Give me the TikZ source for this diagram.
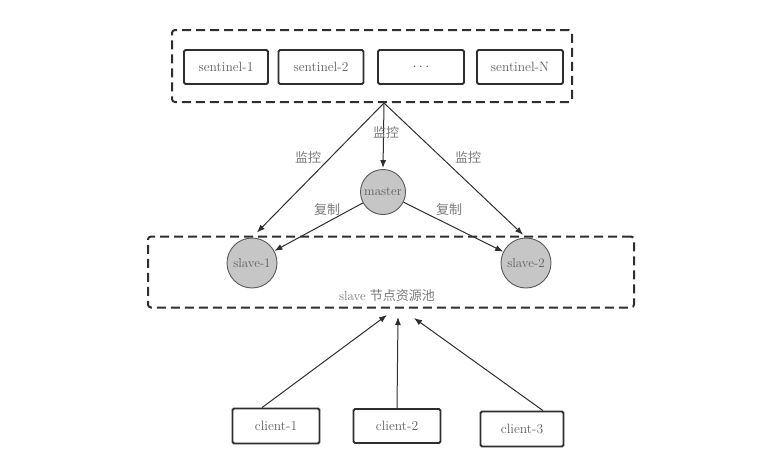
\documentclass[tikz,border=0pt]{standalone}
\usepackage{fontspec}
\newfontfamily\cjk{Noto Sans CJK SC}
\usetikzlibrary{arrows.meta}
\definecolor{txt}{HTML}{5E5E5E}
\definecolor{lt}{HTML}{7A7A7A}
\definecolor{ln}{HTML}{2E2E2E}
\definecolor{cfill}{HTML}{C6C6C6}
\tikzset{
  box/.style={draw=ln, line width=1.8pt, rounded corners=1.5pt, minimum height=34pt, text=txt, font=\fontsize{13.5}{15}\selectfont, inner sep=0pt},
  pool/.style={draw=ln, line width=2pt, dash pattern=on 9pt off 5pt, rounded corners=3pt, inner sep=0pt},
  circ/.style={circle, draw=ln!80, line width=0.9pt, fill=cfill, text=txt, font=\fontsize{13}{15}\selectfont, inner sep=0pt},
  arr/.style={draw=ln, line width=1pt, -{Latex[length=8pt,width=6pt]}},
  lbl/.style={text=lt, font=\cjk\fontsize{13}{15}\selectfont, inner sep=0pt}
}
\begin{document}
\begin{tikzpicture}[x=1pt,y=-1pt]
\useasboundingbox (0,0) rectangle (782,458);
% sentinel pool
\node[pool, minimum width=400pt, minimum height=72pt] (sentpool) at (372,66) {};
\node[box, minimum width=84pt] (s1) at (226,67) {sentinel-1};
\node[box, minimum width=85pt] (s2) at (321,67) {sentinel-2};
\node[box, minimum width=86pt] (s3) at (421,67) {$\cdots$};
\node[box, minimum width=86pt] (sn) at (520,67) {sentinel-N};
% slave pool
\node[pool, minimum width=486pt, minimum height=71pt] (slavepool) at (391,272) {};
\node[text=lt, font=\fontsize{13}{15}\selectfont, inner sep=0pt] (pooltxt) at (387,296) {slave {\cjk 节点资源池}};
% circles
\node[circ, minimum size=45pt] (master) at (383,192) {master};
\node[circ, minimum size=50pt] (slave1) at (252,263) {slave-1};
\node[circ, minimum size=50pt] (slave2) at (526,263) {slave-2};
% monitor arrows
\coordinate (src) at (384,103);
\draw[arr, shorten >=7pt] (src) -- (slave1.north);
\draw[arr, shorten >=1pt] (src) -- (master.north);
\draw[arr, shorten >=4pt] (src) -- (slave2.north);
\node[lbl] (m1) at (308,157) {监控};
\node[lbl] (m2) at (386,132) {监控};
\node[lbl] (m3) at (468,157) {监控};
% copy arrows
\draw[arr] (master) -- (slave1);
\draw[arr] (master) -- (slave2);
\node[lbl] (c1) at (327,210) {复制};
\node[lbl] (c2) at (449,210) {复制};
% clients
\node[box, minimum width=87pt, minimum height=35pt] (cl1) at (276,426) {client-1};
\node[box, minimum width=87pt, minimum height=34pt] (cl2) at (397,426) {client-2};
\node[box, minimum width=83pt, minimum height=35pt] (cl3) at (522,429) {client-3};
\coordinate (t1) at (387,315);
\coordinate (t2) at (398,317);
\coordinate (t3) at (414,318);
\draw[arr] ([xshift=-14pt]cl1.north) -- (t1);
\draw[arr] (cl2.north) -- (t2);
\draw[arr] ([xshift=21pt]cl3.north) -- (t3);
\end{tikzpicture}
\end{document}
